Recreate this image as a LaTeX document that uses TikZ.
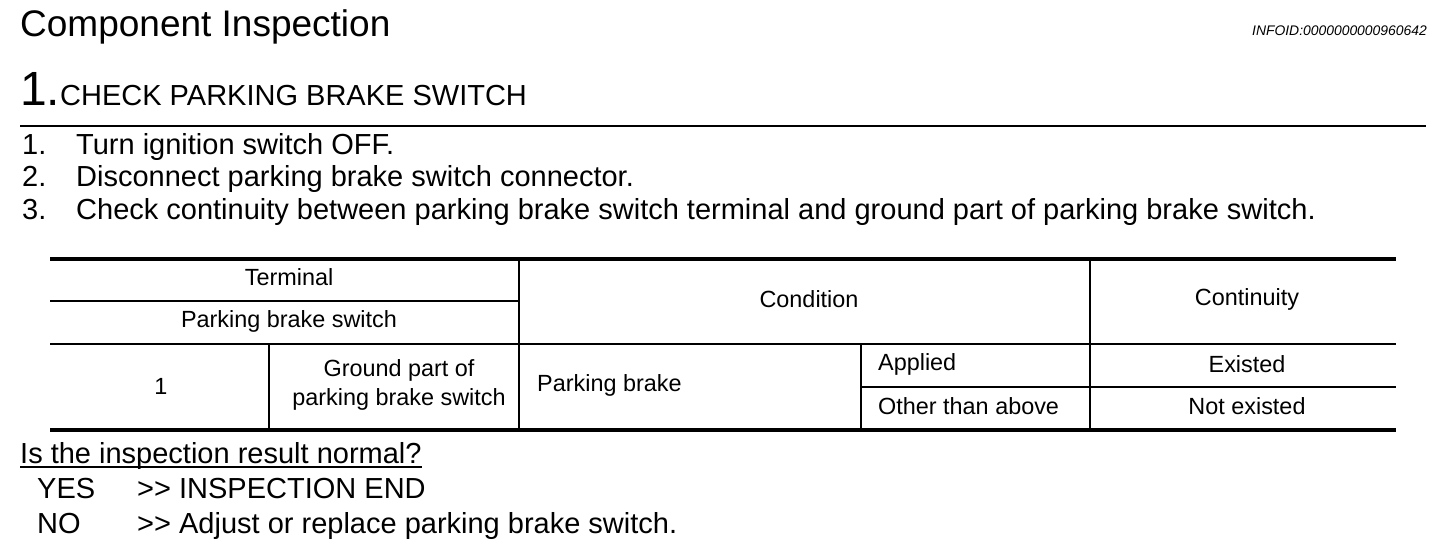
\documentclass[tikz,border=0pt]{standalone}
\usepackage{fontspec}
\setmainfont{Liberation Sans}
\begin{document}
\begin{tikzpicture}[x=1pt,y=-1pt,
  txt/.style={anchor=base west,inner sep=0pt,font=\fontsize{29}{32}\selectfont},
  cell/.style={inner sep=0pt,align=center,font=\fontsize{23.4}{29}\selectfont},
  thin/.style={line width=1.8pt},
  thick/.style={line width=4pt}]
\useasboundingbox (0,0) rectangle (1440,556);
\fill[white] (0,0) rectangle (1440,556);
% heading
\node[txt,font=\fontsize{37}{40}\selectfont] (title) at (20,37) {Component Inspection};
\node[anchor=base east,inner sep=0pt,font=\fontsize{13.9}{15}\selectfont\itshape] (info) at (1427,36) {INFOID:0000000000960642};
\node[txt,font=\fontsize{48}{50}\selectfont] (one) at (20,106) {1.};
\node[txt,font=\fontsize{29}{32}\selectfont] (step) at (60,106) {CHECK PARKING BRAKE SWITCH};
\draw[line width=2.5pt] (20,126) -- (1426,126);
% list
\node[txt] (n1) at (22,155) {1.};
\node[txt] (t1) at (76,155) {Turn ignition switch OFF.};
\node[txt] (n2) at (22,187) {2.};
\node[txt] (t2) at (76,187) {Disconnect parking brake switch connector.};
\node[txt] (n3) at (22,219) {3.};
\node[txt] (t3) at (76,219) {Check continuity between parking brake switch terminal and ground part of parking brake switch.};
% table lines
\draw[thick] (50,259) -- (1396,259);
\draw[thick] (50,430) -- (1396,430);
\draw[thin] (50,301) -- (519,301);
\draw[thin] (50,344) -- (1396,344);
\draw[thin] (861,387) -- (1396,387);
\draw[thin] (519,259) -- (519,430);
\draw[thin] (1090,259) -- (1090,430);
\draw[thin] (269,344) -- (269,430);
\draw[thin] (861,344) -- (861,430);
% table text
\node[cell] (terminal) at (289,277) {Terminal};
\node[cell] (pbs) at (289,321) {Parking brake switch};
\node[cell] (cond) at (809,299) {Condition};
\node[cell] (cont) at (1247,299) {Continuity};
\node[cell] (one1) at (161,386) {1};
\node[cell] (gp) at (399,385) {Ground part of\\parking brake switch};
\node[cell,anchor=west] (pb) at (537,385) {Parking brake};
\node[cell,anchor=west] (app) at (878,364) {Applied};
\node[cell,anchor=west] (oth) at (878,406) {Other than above};
\node[cell] (ex) at (1247,364) {Existed};
\node[cell] (nex) at (1247,406) {Not existed};
% result
\node[txt] (q) at (20,463) {Is the inspection result normal?};
\draw[line width=2pt] ([yshift=-4pt]q.base west) -- ([yshift=-4pt]q.base east);
\node[txt] (yes) at (37,498) {YES};
\node[txt] (yesr) at (137,498) {>{}> INSPECTION END};
\node[txt] (no) at (37,533) {NO};
\node[txt] (nor) at (137,533) {>{}> Adjust or replace parking brake switch.};
\end{tikzpicture}
\end{document}
